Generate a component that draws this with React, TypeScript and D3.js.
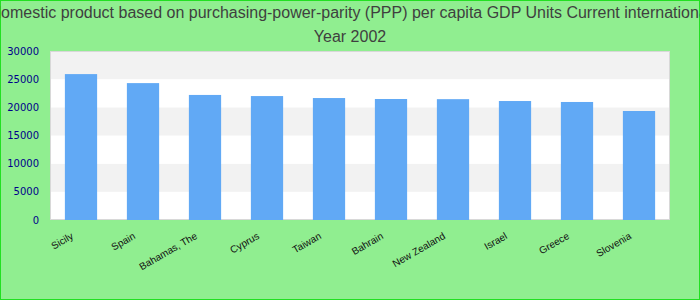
import React from "react";
import * as d3 from "d3";

const categories = ["Sicily", "Spain", "Bahamas, The", "Cyprus", "Taiwan", "Bahrain", "New Zealand", "Israel", "Greece", "Slovenia"];
const values = [25900, 24300, 22200, 22000, 21650, 21480, 21450, 21120, 20950, 19350];
const yTicks = [0, 5000, 10000, 15000, 20000, 25000, 30000];
const titleLines = [
  "Gross domestic product based on purchasing-power-parity (PPP) per capita GDP Units Current international dollar",
  "Year 2002",
];

const W = 700, H = 300;
const M = { left: 50, right: 30, top: 51, bottom: 80 };

export default function App() {
  const x = d3.scaleBand<string>().domain(categories).range([M.left, W - M.right]).paddingInner(0.48).paddingOuter(0.24);
  const y = d3.scaleLinear().domain([0, 30000]).range([H - M.bottom, M.top]);
  const bands = yTicks.slice(0, -1).map((t, i) => ({ t0: t, t1: yTicks[i + 1], i }));
  return (
    <svg width={W} height={H} style={{ position: "absolute", left: 0, top: 0 }} fontFamily="'Liberation Sans', Arial, sans-serif">
      <rect x={0.5} y={0.5} width={W - 1} height={H - 1} fill="#90ee90" stroke="#22e022" />
      {titleLines.map((t, i) => (
        <text key={i} x={350} y={18 + i * 24} textAnchor="middle" fontSize={16} fill="#3f3f3f">{t}</text>
      ))}
      <rect x={M.left} y={M.top} width={W - M.left - M.right} height={H - M.top - M.bottom} fill="#fff" />
      {bands.map(b => (
        <rect key={b.i} x={M.left} y={y(b.t1)} width={W - M.left - M.right} height={y(b.t0) - y(b.t1)} fill={b.i % 2 === 1 ? "#f2f2f2" : "#fff"} />
      ))}
      <rect x={M.left + 0.5} y={M.top + 0.5} width={W - M.left - M.right - 1} height={H - M.top - M.bottom - 1} fill="none" stroke="#d8d8d8" />
      {categories.map((c, i) => (
        <rect key={c} x={x(c)} y={y(values[i])} width={x.bandwidth()} height={y(0) - y(values[i])} fill="#61a9f5" />
      ))}
      {yTicks.map(t => (
        <text key={t} x={39} y={y(t) + 3.5} textAnchor="end" fontSize={10} fill="#00008b" fontFamily="'DejaVu Sans', Verdana, sans-serif">{t}</text>
      ))}
      {categories.map(c => {
        const cx = (x(c) as number) + x.bandwidth() / 2 - 7;
        return (
          <text key={c} transform={`translate(${cx},${238}) rotate(-30)`} textAnchor="end" fontSize={10} fill="#111">{c}</text>
        );
      })}
    </svg>
  );
}
